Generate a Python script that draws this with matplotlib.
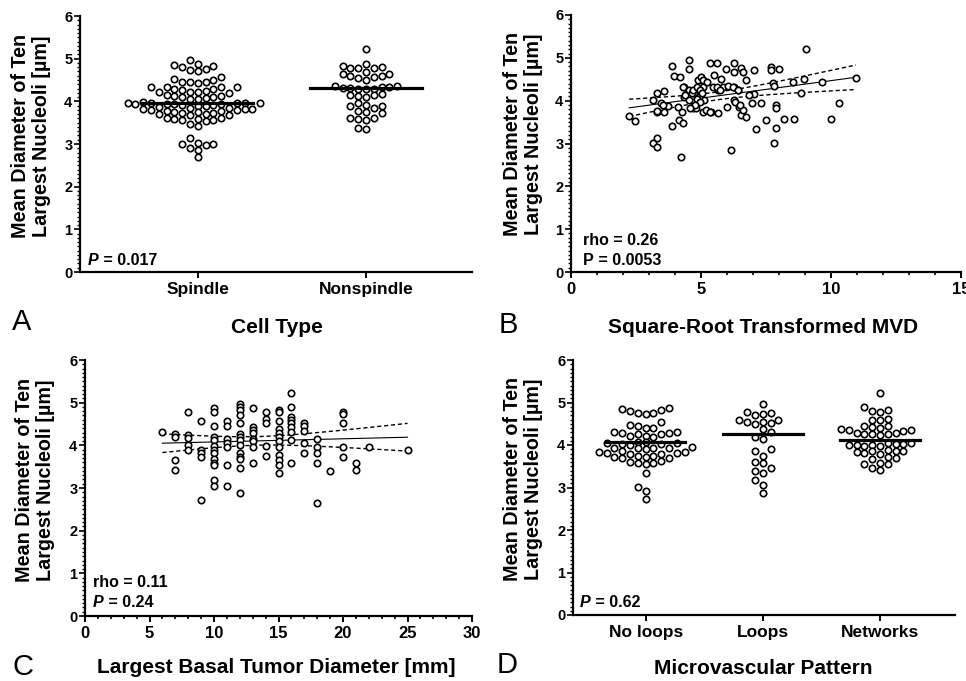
import numpy as np
import matplotlib
matplotlib.use("Agg")
import matplotlib.pyplot as plt
from matplotlib.ticker import MultipleLocator

plt.rcParams['font.family'] = ['Liberation Sans', 'DejaVu Sans']
plt.rcParams['font.weight'] = 'bold'

# ---- data ----
# A: nucleoli diameter by cell type
cell_types = ['Spindle', 'Nonspindle']
spindle = [4.97,
           4.88, 4.82, 4.76, 4.72, 4.74, 4.80, 4.86,
           4.57, 4.50, 4.45, 4.44, 4.45, 4.46, 4.52,
           4.34, 4.33, 4.30, 4.26, 4.23, 4.21, 4.20, 4.21, 4.25, 4.29, 4.33, 4.33,
           4.15, 4.12, 4.10, 4.08, 4.05, 4.06, 4.10, 4.13,
           3.93, 3.92, 3.90, 3.95, 3.97, 3.98, 3.96, 3.94, 3.92, 3.95, 3.97, 3.93, 3.90, 3.94,
           3.80, 3.78, 3.84, 3.82, 3.85, 3.80, 3.83, 3.86, 3.81, 3.77,
           3.72, 3.70, 3.74, 3.68, 3.73, 3.71, 3.75, 3.69,
           3.57, 3.60, 3.58, 3.56, 3.59, 3.62, 3.55,
           3.42, 3.47, 3.15, 3.02, 3.00, 3.01, 2.98, 2.90, 2.86, 2.70]
nonspindle = [5.22,
              4.88, 4.80, 4.79, 4.78, 4.79, 4.83,
              4.68, 4.60, 4.56, 4.55, 4.60, 4.63, 4.65, 4.50,
              4.36, 4.32, 4.33, 4.30, 4.28, 4.35, 4.31, 4.34, 4.30,
              4.15, 4.12, 4.18, 4.10, 4.14,
              3.95, 3.92, 3.88, 3.85, 3.90,
              3.75, 3.72, 3.78,
              3.60, 3.58, 3.62, 3.57,
              3.35, 3.38]
means_a = [3.95, 4.32]

# B: sqrt MVD vs diameter
mvd = [2.24, 2.46, 3.17, 3.29, 3.29, 3.17, 3.29, 3.29, 3.59, 3.59, 3.46, 3.72, 3.87, 3.87,
       3.97, 4.19, 4.10, 4.17, 4.27, 4.29, 4.36, 4.36, 4.23, 4.55, 4.55, 4.55, 4.55, 4.68,
       4.74, 4.87, 5.00, 5.06, 5.13, 5.06, 5.19, 4.94, 4.81, 5.36, 5.62, 5.51, 5.77, 5.38,
       5.64, 5.45, 5.64, 5.83, 5.96, 6.03, 6.01, 6.15, 6.28, 6.28, 6.54, 6.60, 6.73, 6.28,
       6.41, 6.28, 6.47, 6.54, 6.73, 6.60, 7.03, 7.05, 6.96, 7.12, 7.31, 7.50, 7.69, 7.69,
       8.01, 7.76, 7.82, 7.88, 7.88, 7.79, 7.88, 8.21, 8.53, 8.56, 8.85, 8.95, 9.04, 9.64,
       10.0, 10.32, 10.96,
       3.30, 3.55, 4.32, 4.39, 4.64, 4.71, 4.83, 4.96, 5.02, 4.83, 4.96, 4.77, 4.58, 5.09,
       5.24, 5.60, 5.73, 6.24, 6.44, 5.35, 6.31, 6.50, 6.86]
mvd_diam = [3.64, 3.53, 3.02, 3.14, 2.92, 4.01, 4.19, 3.74, 4.23, 3.74, 3.94, 3.87, 4.82, 3.41,
            4.58, 4.56, 3.86, 3.56, 3.74, 3.47, 4.33, 4.09, 2.69, 4.96, 4.74, 4.25, 4.01, 3.82,
            4.17, 4.48, 4.56, 4.33, 4.01, 3.74, 3.78, 4.09, 3.82, 4.87, 4.87, 4.60, 4.50, 3.74,
            3.72, 4.33, 4.26, 4.31, 4.75, 4.35, 3.86, 2.84, 4.89, 4.68, 4.77, 4.68, 4.48, 4.33,
            4.26, 4.01, 3.86, 3.66, 3.62, 3.78, 4.72, 4.15, 3.95, 3.33, 3.95, 3.55, 4.79, 4.72,
            4.75, 4.41, 4.35, 3.90, 3.82, 3.02, 3.37, 3.57, 4.44, 3.57, 4.19, 4.50, 5.20, 4.44,
            3.57, 3.95, 4.54,
            3.77, 3.90, 4.33, 4.14, 4.17, 4.25, 4.33, 4.25, 4.17, 4.03, 3.98, 3.90, 3.82, 4.48,
            4.44, 4.33, 4.25, 4.33, 4.25, 3.74, 3.98, 3.90, 4.14]
# regression line as drawn (intercept, slope)
fit_b = [3.65, 0.0818]

# C: tumor diameter (mm) vs nucleoli diameter, grouped by mm
tumor_mm = [6, 7, 8, 9, 10, 11, 12, 13, 14, 15, 16, 17, 18, 19, 20, 21, 22, 25]
tumor_diam = [[4.32],
              [4.27, 4.20, 3.66, 3.42],
              [4.77, 4.24, 4.18, 4.00, 3.89],
              [4.58, 3.89, 3.81, 3.73, 2.72],
              [4.88, 4.77, 4.45, 4.20, 4.13, 3.98, 3.89, 3.81, 3.67, 3.59, 3.54, 3.19, 3.05],
              [4.57, 4.45, 4.14, 4.05, 3.95, 3.54, 3.05],
              [4.98, 4.91, 4.83, 4.71, 4.53, 4.27, 4.20, 4.13, 4.00, 3.81, 3.73, 3.67, 3.48, 2.88],
              [4.87, 4.42, 4.36, 4.28, 4.16, 4.09, 3.95, 3.59],
              [4.79, 4.61, 4.53, 3.98, 3.75],
              [4.83, 4.79, 4.57, 4.38, 4.30, 4.20, 4.09, 3.95, 3.77, 3.66, 3.54, 3.34],
              [5.22, 4.89, 4.67, 4.59, 4.52, 4.42, 4.32, 4.13, 3.59],
              [4.52, 4.45, 4.34, 4.06, 3.83],
              [4.14, 3.97, 3.81, 3.59, 2.64],
              [3.40],
              [4.79, 4.73, 4.53, 3.97, 3.73],
              [3.59, 3.42],
              [3.97],
              [3.89]]
fit_c = [4.006, 0.00737]

# D: microvascular pattern
patterns = ['No loops', 'Loops', 'Networks']
no_loops = [4.85, 4.80, 4.76, 4.74, 4.76, 4.82, 4.87,
            4.55, 4.45, 4.40, 4.48, 4.40,
            4.30, 4.28, 4.25, 4.22, 4.20, 4.22, 4.25, 4.28, 4.30,
            4.05, 4.03, 4.00, 4.02, 4.05, 4.08, 4.06,
            3.93, 3.92, 3.90, 3.92, 3.93, 3.95,
            3.83, 3.80, 3.82, 3.85, 3.81, 3.84, 3.80,
            3.72, 3.70, 3.73, 3.71, 3.74, 3.69,
            3.60, 3.57, 3.55, 3.58, 3.62,
            3.33, 3.02, 2.92, 2.72]
loops = [4.97, 4.75, 4.70, 4.72, 4.77,
         4.58, 4.55, 4.52, 4.50, 4.55, 4.60,
         4.38, 4.30, 4.20, 4.15,
         3.90, 3.85, 3.75,
         3.60, 3.58, 3.45, 3.40,
         3.35, 3.18, 3.05, 2.88]
networks = [5.22, 4.90, 4.82, 4.78, 4.80,
            4.62, 4.58, 4.60,
            4.45, 4.40, 4.35, 4.33, 4.35, 4.38, 4.42, 4.44,
            4.28, 4.25, 4.26, 4.28, 4.24, 4.27,
            4.05, 4.02, 4.00, 3.98, 4.00, 4.03, 4.05, 4.01, 3.97,
            3.88, 3.85, 3.83, 3.82, 3.85, 3.87, 3.80,
            3.72, 3.68, 3.70,
            3.58, 3.55, 3.56,
            3.42, 3.45]
means_d = [4.08, 4.25, 4.12]

ylab = 'Mean Diameter of Ten\nLargest Nucleoli [µm]'

W, H = 966, 681
fig = plt.figure(figsize=(W / 100, H / 100), dpi=100)
renderer = fig.canvas.get_renderer()


def px_axes(l, t, r, b):
    return fig.add_axes([l / W, 1 - b / H, (r - l) / W, (b - t) / H])


def style_axes(ax):
    for s in ['top', 'right']:
        ax.spines[s].set_visible(False)
    for s in ['left', 'bottom']:
        ax.spines[s].set_linewidth(1.6)
    ax.set_ylim(0, 6)
    ax.yaxis.set_major_locator(MultipleLocator(1))
    ax.yaxis.set_minor_locator(MultipleLocator(0.1))
    ax.tick_params(axis='y', which='major', length=4, width=1.2, pad=1.5, labelsize=10.5)
    ax.tick_params(axis='y', which='minor', length=2.2, width=1.0)
    ax.tick_params(axis='x', which='major', length=4, width=1.4, pad=3, labelsize=12.5)
    ax.tick_params(axis='x', which='minor', length=2.5, width=1.2)
    for lab in ax.get_xticklabels() + ax.get_yticklabels():
        lab.set_fontweight('bold')


def swarm_x(vals, center, col_px, min_dy_px, ax_w_px, xspan, y_px_per_unit):
    # prism-like column scatter: put each point in the nearest free column
    col = col_px * xspan / ax_w_px
    min_dy = min_dy_px / y_px_per_unit
    cands = [0] + [s * k for k in range(1, 40) for s in (-1, 1)]
    placed = {}
    xs = np.zeros(len(vals))
    for i in np.argsort(vals):
        y = vals[i]
        for c in cands:
            if all(abs(y - yy) >= min_dy for yy in placed.get(c, [])):
                placed.setdefault(c, []).append(y)
                xs[i] = center + c * col
                break
    return xs


def fit_band(x, y, fit):
    # line as drawn, 95% confidence band from the scatter around it
    x = np.asarray(x, float)
    y = np.asarray(y, float)
    n = len(x)
    icpt, slope = fit
    xs = np.linspace(x.min(), x.max(), 100)
    yhat = icpt + slope * xs
    s = np.sqrt(np.sum((y - (icpt + slope * x)) ** 2) / (n - 2))
    sxx = np.sum((x - x.mean()) ** 2)
    half = 1.98 * s * np.sqrt(1 / n + (xs - x.mean()) ** 2 / sxx)
    return xs, yhat, yhat - half, yhat + half


mk = dict(marker='o', linestyle='none', markersize=4.6, markerfacecolor='white',
          markeredgecolor='black', markeredgewidth=1.2, zorder=3)


def text_with_p(x, y, rest, italic=True, size=11.5):
    t = fig.text(x / W, 1 - y / H, 'P', fontsize=size, fontweight='bold',
                 style='italic' if italic else 'normal', va='baseline')
    w = t.get_window_extent(renderer=renderer).width
    fig.text((x + w) / W, 1 - y / H, rest, fontsize=size, fontweight='bold', va='baseline')


# ---- A ----
axA = px_axes(80, 16, 472, 272)
style_axes(axA)
axA.set_xlim(-0.70, 1.63)
for i, vals in enumerate([spindle, nonspindle]):
    xs = swarm_x(vals, i, 7.8, 6.5, 392, 2.33, 256 / 6)
    axA.plot(xs, vals, **mk)
    axA.plot([i - 0.33, i + 0.33], [means_a[i], means_a[i]], color='black', lw=2.3, zorder=4)
axA.set_xticks(range(len(cell_types)))
axA.set_xticklabels(cell_types, fontweight='bold')

# ---- B ----
axB = px_axes(571, 15, 961, 272)
style_axes(axB)
axB.set_xlim(0, 15)
axB.xaxis.set_major_locator(MultipleLocator(5))
axB.xaxis.set_minor_locator(MultipleLocator(1))
axB.tick_params(axis='x', labelsize=12)
for lab in axB.get_xticklabels():
    lab.set_fontweight('bold')
xs, yh, lo, hi = fit_band(mvd, mvd_diam, fit_b)
axB.plot(xs, yh, color='black', lw=0.8, zorder=2)
axB.plot(xs, lo, color='black', lw=1.0, ls=(0, (3, 2)), zorder=2)
axB.plot(xs, hi, color='black', lw=1.0, ls=(0, (3, 2)), zorder=2)
axB.plot(mvd, mvd_diam, **mk)

# ---- C ----
axC = px_axes(85, 360, 472, 616)
style_axes(axC)
axC.set_xlim(0, 30)
axC.xaxis.set_major_locator(MultipleLocator(5))
axC.xaxis.set_minor_locator(MultipleLocator(1))
axC.tick_params(axis='x', labelsize=12)
for lab in axC.get_xticklabels():
    lab.set_fontweight('bold')
cx = [m for m, v in zip(tumor_mm, tumor_diam) for _ in v]
cy = [d for v in tumor_diam for d in v]
xs, yh, lo, hi = fit_band(cx, cy, fit_c)
axC.plot(xs, yh, color='black', lw=0.8, zorder=2)
axC.plot(xs, lo, color='black', lw=1.0, ls=(0, (3, 2)), zorder=2)
axC.plot(xs, hi, color='black', lw=1.0, ls=(0, (3, 2)), zorder=2)
axC.plot(cx, cy, **mk)

# ---- D ----
axD = px_axes(573, 360, 955, 615)
style_axes(axD)
axD.set_xlim(-0.62, 2.64)
for i, vals in enumerate([no_loops, loops, networks]):
    xs = swarm_x(vals, i, 7.8, 6.5, 382, 3.26, 255 / 6)
    axD.plot(xs, vals, **mk)
    axD.plot([i - 0.34, i + 0.34], [means_d[i], means_d[i]], color='black', lw=2.3, zorder=4)
axD.set_xticks(range(len(patterns)))
axD.set_xticklabels(patterns, fontweight='bold')

# ---- labels ----
for cx_, cy_ in [(31, 136), (523, 134), (35, 480), (523, 479)]:
    fig.text(cx_ / W, 1 - cy_ / H, ylab, rotation=90, ha='center', va='center',
             multialignment='center', fontsize=14.2, fontweight='bold', linespacing=1.15)

for x, y, s in [(277, 333, 'Cell Type'), (763, 333, 'Square-Root Transformed MVD'),
                (276, 673, 'Largest Basal Tumor Diameter [mm]'),
                (763, 674, 'Microvascular Pattern')]:
    fig.text(x / W, 1 - y / H, s, ha='center', va='baseline', fontsize=15, fontweight='bold')

for x, y, s in [(12, 330, 'A'), (499, 333, 'B'), (13, 675, 'C'), (497, 673, 'D')]:
    fig.text(x / W, 1 - y / H, s, ha='left', va='baseline', fontsize=21, fontweight='normal')

text_with_p(88, 265, ' = 0.017')
fig.text(583 / W, 1 - 245 / H, 'rho = 0.26', fontsize=11.5, fontweight='bold', va='baseline')
text_with_p(583, 265, ' = 0.0053', italic=False)
fig.text(93 / W, 1 - 587 / H, 'rho = 0.11', fontsize=11.5, fontweight='bold', va='baseline')
text_with_p(93, 607, ' = 0.24')
text_with_p(580, 607, ' = 0.62')

fig.savefig('out.png', dpi=100)
